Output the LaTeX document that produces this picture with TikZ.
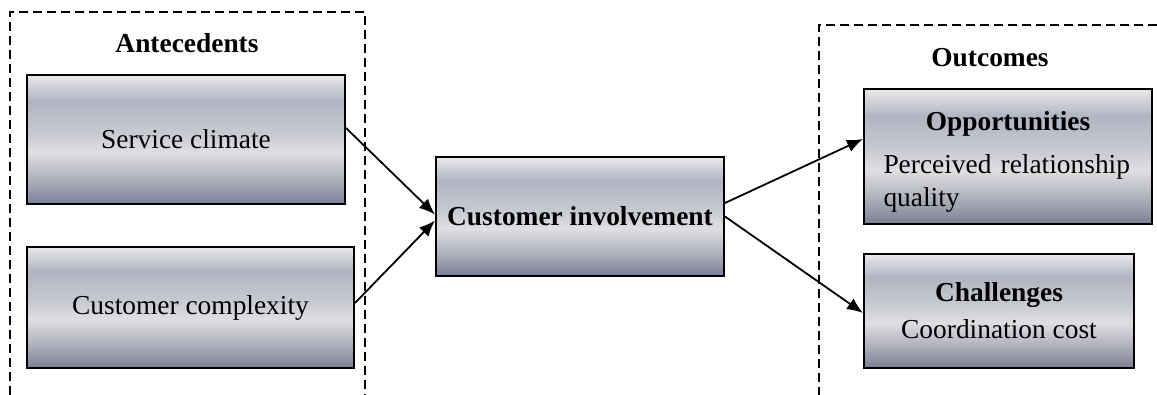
\documentclass[tikz,border=0pt]{standalone}
\usepackage{fontspec}
\setmainfont{Liberation Serif}
\usetikzlibrary{arrows.meta}

\definecolor{gradT}{HTML}{EAEAEC}
\definecolor{gradA}{HTML}{B1B4C1}
\definecolor{gradM}{HTML}{C8CAD2}
\definecolor{gradB}{HTML}{DFDFE2}
\definecolor{gradC}{HTML}{B0B2BD}
\definecolor{gradD}{HTML}{7B7F94}
\pgfdeclareverticalshading{boxgrad}{100bp}{color(0bp)=(gradD); color(25bp)=(gradD);
  color(35bp)=(gradC); color(45bp)=(gradB); color(52.5bp)=(gradM);
  color(65bp)=(gradA); color(75bp)=(gradT); color(100bp)=(gradT)}

\begin{document}
\begin{tikzpicture}[
            x = 0.5pt, y = -0.5pt,
            font = \fontsize{13.7pt}{16.5pt}\selectfont,
            box/.style = {draw, line width=1pt, shade, shading=boxgrad, inner sep=0pt},
            heading/.style = {font=\fontsize{13.7pt}{16.5pt}\selectfont\bfseries},
            frame/.style = {draw, line width=0.75pt, dash pattern=on 4.5pt off 2.5pt},
            link/.style = {draw, line width=0.9pt, -{Latex[length=8pt, width=6.5pt]}}
        ]
            \useasboundingbox (0,0) rectangle (1157,395);

            % Dashed groups
            \draw[frame] (10,395) |- (365,12) -- (365,395);
            \draw[frame] (1157,25) -| (819,395);
            \node[heading] (ant) at (187,43) {Antecedents};
            \node[heading] (out) at (990,58) {Outcomes};

            % Antecedents
            \node[box, minimum width=159pt, minimum height=64.5pt] (svc) at (186,139.5) {Service climate};
            \node[box, minimum width=163.5pt, minimum height=60.5pt] (cplx) at (190.5,307.5) {Customer complexity};

            % Centre
            \node[box, minimum width=144pt, minimum height=59.5pt] (inv) at (580,216.5) {\textbf{Customer involvement}};

            % Outcomes
            \node[box, minimum width=144pt, minimum height=67.5pt, text width=124.5pt, align=left, text depth=36pt] (opp) at (1008,156.5)
                {\makebox[124.5pt]{\textbf{Opportunities}}\\[5pt] Perceived relationship\\ quality};
            \node[box, minimum width=135pt, minimum height=57pt, align=center] (chal) at (999,311)
                {\textbf{Challenges}\\[2pt] Coordination cost};

            % Links
            \draw[link] ([yshift=5.75pt]svc.east) -- ([yshift=1pt]inv.west);
            \draw[link] ([yshift=2.25pt]cplx.east) -- ([yshift=-2pt]inv.west);
            \draw[link] ([yshift=6.75pt]inv.east) -- ([yshift=8.75pt]opp.west);
            \draw[link] ([yshift=0pt]inv.east) -- ([yshift=-1pt]chal.west);

        \end{tikzpicture}
\end{document}
